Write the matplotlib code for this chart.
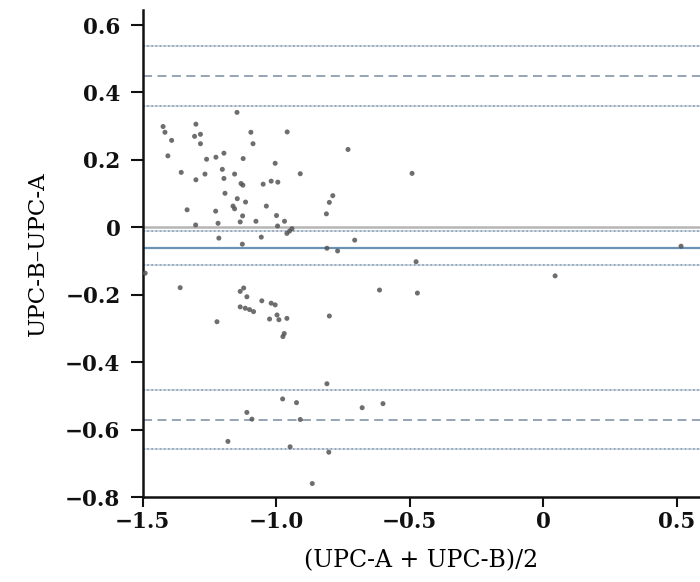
import matplotlib
matplotlib.use("Agg")
import matplotlib.pyplot as plt
import numpy as np

# Mean of the two measurements (x) and their difference (y)
mean_ab = [
    -1.147, -1.424, -1.417, -1.301, -1.306, -1.284, -1.392, -1.284, -1.095, -1.087,
    -0.959, -1.406, -1.261, -1.226, -1.196, -1.124, -1.004, -0.731, -1.356, -1.267,
    -1.301, -1.202, -1.196, -1.156, -1.132, -1.125, -1.049, -1.019, -0.994, -0.910,
    -1.192, -1.146, -1.115, -1.162, -1.156, -1.334, -1.227, -1.037, -1.126, -0.999,
    -1.218, -1.135, -1.076, -1.302, -0.969, -0.995, -0.788, -0.801, -0.812, -0.491,
    -0.941, -0.950, -0.960, -1.215, -1.056, -0.706, -1.127, -0.810, -0.770, -0.476,
    0.517, 0.045, -1.491, -0.613, -0.471,
    -1.360, -1.135, -1.122, -1.110, -1.135, -1.116, -1.100, -1.085, -1.054, -1.019,
    -1.004, -1.025, -0.997, -0.990, -0.960, -0.970, -0.975, -1.222, -0.801,
    -0.810, -0.976, -0.924, -1.110, -1.091, -0.910, -0.678, -0.600, -1.181, -0.948,
    -0.803, -0.865,
]
diff_ba = [
    0.341, 0.299, 0.282, 0.306, 0.270, 0.276, 0.258, 0.248, 0.282, 0.248,
    0.283, 0.212, 0.202, 0.208, 0.220, 0.204, 0.190, 0.231, 0.163, 0.158,
    0.141, 0.172, 0.145, 0.158, 0.130, 0.125, 0.128, 0.137, 0.134, 0.159,
    0.101, 0.085, 0.075, 0.063, 0.055, 0.052, 0.048, 0.063, 0.034, 0.035,
    0.012, 0.016, 0.018, 0.007, 0.018, 0.004, 0.094, 0.074, 0.040, 0.160,
    -0.004, -0.011, -0.018, -0.032, -0.029, -0.038, -0.050, -0.062, -0.070, -0.102,
    -0.056, -0.144, -0.136, -0.186, -0.195,
    -0.179, -0.190, -0.180, -0.206, -0.236, -0.240, -0.244, -0.250, -0.218, -0.225,
    -0.230, -0.272, -0.260, -0.274, -0.270, -0.315, -0.324, -0.280, -0.263,
    -0.464, -0.509, -0.520, -0.549, -0.569, -0.570, -0.535, -0.523, -0.635, -0.651,
    -0.667, -0.760,
]

mean_diff = -0.0615
loa_upper = 0.449
loa_lower = -0.572
ci_mean = [-0.112, -0.010]
ci_upper = [0.361, 0.538]
ci_lower = [-0.658, -0.484]

x_ticks = [-1.5, -1.0, -0.5, 0.0, 0.5]
x_tick_labels = ["\u22121.5", "\u22121.0", "\u22120.5", "0", "0.5"]
y_ticks = [0.6, 0.4, 0.2, 0.0, -0.2, -0.4, -0.6, -0.8]
y_tick_labels = ["0.6", "0.4", "0.2", "0", "\u22120.2", "\u22120.4", "\u22120.6", "\u22120.8"]

plt.rcParams['font.family'] = ['DejaVu Serif']

fig = plt.figure(figsize=(7.0, 5.82), dpi=100)
ax = fig.add_axes([0.204, 0.146, 0.796, 0.837])

line_col = '#8d9db0'
light_col = '#c9d7e4'

# zero line
ax.axhline(0.0, color='#b5b5b5', lw=1.8, zorder=1)
# confidence interval lines (dotted over faint solid)
for v in ci_mean + ci_upper + ci_lower:
    ax.axhline(v, color=light_col, lw=1.2, zorder=1)
    ax.axhline(v, color=line_col, lw=1.2, ls=(0, (1, 1.5)), zorder=2)
# limits of agreement
for v in (loa_upper, loa_lower):
    ax.axhline(v, color=line_col, lw=1.3, ls=(0, (5, 3)), zorder=2)
# mean difference
ax.axhline(mean_diff, color='#6b93b6', lw=1.6, zorder=2)

ax.scatter(mean_ab, diff_ba, s=13, color='#555555', alpha=0.85,
           edgecolors='none', zorder=3)

ax.set_xlim(-1.5, 0.588)
ax.set_ylim(-0.8, 0.645)

ax.set_xticks(x_ticks)
ax.set_xticklabels(x_tick_labels, fontsize=15.5, fontweight='bold')
ax.set_yticks(y_ticks)
ax.set_yticklabels(y_tick_labels, fontsize=15.5, fontweight='bold')

for s in ('top', 'right'):
    ax.spines[s].set_visible(False)
for s in ('left', 'bottom'):
    ax.spines[s].set_linewidth(1.8)
    ax.spines[s].set_color('#111111')
ax.tick_params(axis='y', direction='out', length=9, width=1.5, colors='#111111', pad=7)
ax.tick_params(axis='x', direction='out', length=7, width=1.5, colors='#111111', pad=3)

ax.set_xlabel("(UPC-A + UPC-B)/2", fontsize=17, labelpad=12)
ax.set_ylabel("UPC-B\u2013UPC-A", fontsize=16.5, labelpad=12)

fig.savefig("out.png", dpi=100)
